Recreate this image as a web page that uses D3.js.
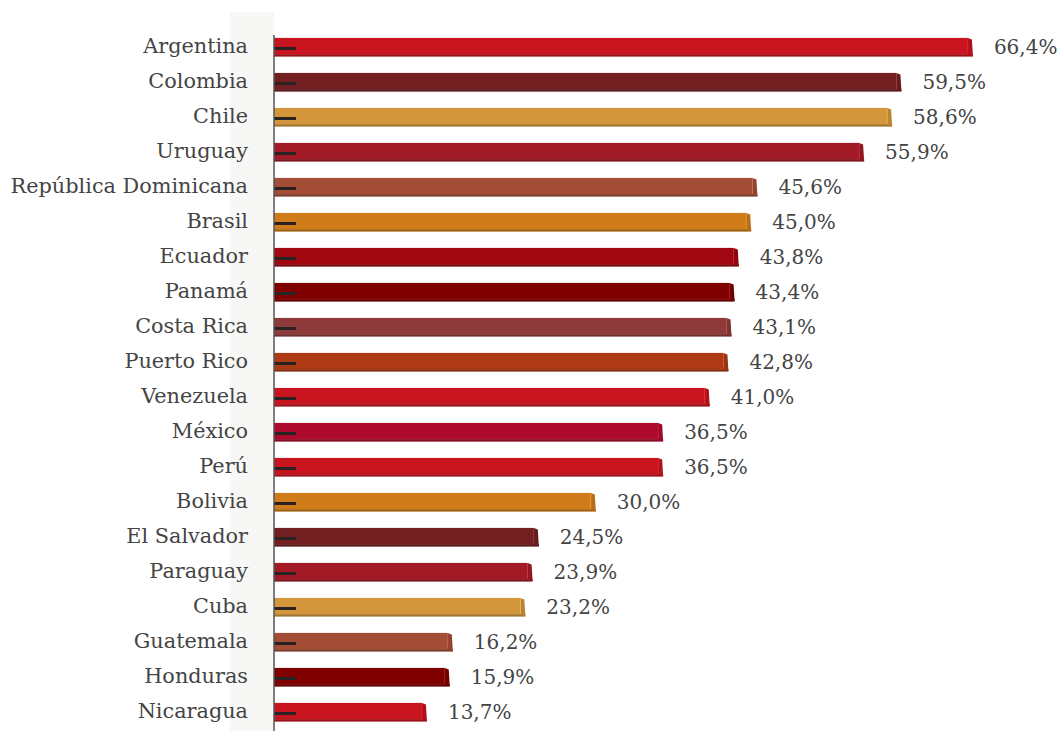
<!DOCTYPE html>
<html><head><meta charset="utf-8">
<script src="https://cdn.jsdelivr.net/npm/d3@7"></script>
<style>body{margin:0;background:#fff;}svg{display:block;}</style>
</head><body>
<svg id="c" width="1063" height="731"></svg>
<script>
const countries = ["Argentina","Colombia","Chile","Uruguay","República Dominicana","Brasil","Ecuador","Panamá","Costa Rica","Puerto Rico","Venezuela","México","Perú","Bolivia","El Salvador","Paraguay","Cuba","Guatemala","Honduras","Nicaragua"];
const values = [66.4,59.5,58.6,55.9,45.6,45.0,43.8,43.4,43.1,42.8,41.0,36.5,36.5,30.0,24.5,23.9,23.2,16.2,15.9,13.7];
const colors = ["#c8141e","#731f22","#d4963a","#a31a27","#a34c36","#d07c1a","#a10710","#800000","#8f3a3a","#ad3a14","#c8141e","#ad0a2d","#c8141e","#d07c1a","#731f22","#a31a27","#d4963a","#a34c36","#800000","#c8141e"];

const svg = d3.select("#c");
const x = d3.scaleLinear().domain([0, 70]).range([285, 1010.2]);
const y = d3.scaleBand().domain(countries).range([29.5, 729.5]).paddingInner(0.48).paddingOuter(0.24);
const axisX = 274;

// shaded band
svg.append("rect").attr("x", 230).attr("y", 12).attr("width", 44).attr("height", 719).attr("fill", "#f7f7f5");

const g = svg.append("g");
countries.forEach((c, i) => {
  const v = values[i];
  const y0 = y(c), h = y.bandwidth(), x1 = x(v);
  const col = d3.color(colors[i]);
  g.append("rect").attr("x", axisX).attr("y", y0 + h - 2).attr("width", x1 - axisX).attr("height", 2.5)
    .attr("fill", col.darker(0.7));
  g.append("rect").attr("x", axisX).attr("y", y0).attr("width", x1 - axisX - 5).attr("height", h - 2)
    .attr("fill", col);
  g.append("path")
    .attr("d", `M${x1-5},${y0} L${x1-1},${y0+1.5} L${x1},${y0+h} L${x1-5},${y0+h-1} Z`)
    .attr("fill", col.darker(0.35));
  g.append("line").attr("x1", x1 - 5).attr("x2", x1 - 5).attr("y1", y0 + 1).attr("y2", y0 + h - 2)
    .attr("stroke", col.brighter(0.8)).attr("stroke-width", 0.8).attr("opacity", 0.7);
  g.append("line").attr("x1", axisX).attr("x2", axisX + 22).attr("y1", y0 + h / 2 + 1.5).attr("y2", y0 + h / 2 + 1.5)
    .attr("stroke", "#2a2222").attr("stroke-width", 3);
  g.append("text").attr("x", x1 + 21).attr("y", y0 + h / 2 + 7)
    .attr("font-family", "DejaVu Serif, serif").attr("font-size", 20).attr("fill", "#444")
    .text(d3.format(".1f")(v).replace(".", ",") + "%");
});

svg.append("line").attr("x1", axisX).attr("x2", axisX).attr("y1", 35).attr("y2", 731)
  .attr("stroke", "#555").attr("stroke-width", 1.5);

const yAxis = d3.axisLeft(y).tickSize(0).tickPadding(0);
const ga = svg.append("g").attr("transform", "translate(248,0)").call(yAxis);
ga.select(".domain").remove();
ga.selectAll("text").attr("font-family", "DejaVu Serif, serif").attr("font-size", 20.8).attr("fill", "#444")
  .attr("dy", "0.3em");
</script>
</body></html>
